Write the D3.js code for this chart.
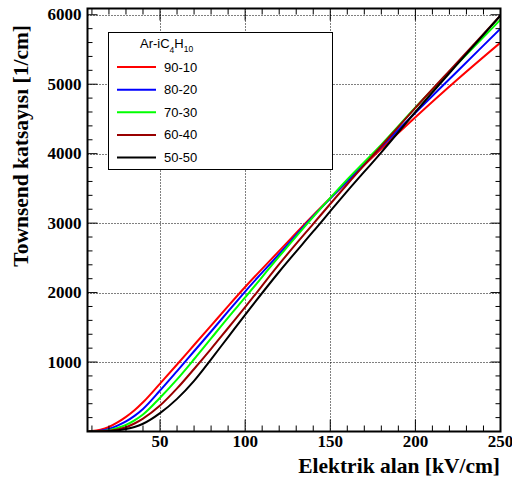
<!DOCTYPE html>
<html>
<head>
<meta charset="utf-8">
<script src="https://cdn.jsdelivr.net/npm/d3@7"></script>
<style>
  html, body { margin: 0; padding: 0; background: #fff; }
  svg { display: block; }
</style>
</head>
<body>
<svg id="chart" width="512" height="481"></svg>
<script>
// Electric field samples (kV/cm)
const field = [8, 10, 15, 20, 25, 30, 35, 40, 50, 60, 70, 80, 90, 100, 120, 140, 160, 180, 200, 225, 250];

// Townsend coefficient (1/cm) for each Ar-iC4H10 mixture
const alpha90_10 = [3, 6, 25, 65, 130, 210, 305, 420, 690, 965, 1245, 1525, 1805, 2080, 2600, 3115, 3600, 4070, 4525, 5075, 5600];
const alpha80_20 = [1, 2, 12, 38, 85, 145, 225, 325, 590, 870, 1155, 1440, 1728, 2015, 2555, 3100, 3605, 4100, 4590, 5195, 5800];
const alpha70_30 = [0, 1, 5, 18, 50, 95, 160, 245, 486, 750, 1040, 1340, 1640, 1930, 2520, 3090, 3630, 4130, 4665, 5300, 5930];
const alpha60_40 = [0, 0, 3, 10, 30, 62, 115, 185, 373, 620, 900, 1190, 1490, 1790, 2410, 2990, 3560, 4110, 4660, 5325, 5990];
const alpha50_50 = [0, 0, 1, 5, 15, 35, 65, 112, 265, 470, 730, 1040, 1360, 1680, 2300, 2880, 3460, 4020, 4600, 5300, 5990];

const mixtures = ["90-10", "80-20", "70-30", "60-40", "50-50"];
const seriesValues = [alpha90_10, alpha80_20, alpha70_30, alpha60_40, alpha50_50];
const colors = ["#ff0000", "#0000ff", "#00ff00", "#990000", "#000000"];

const xTicks = [50, 100, 150, 200, 250];
const yTicks = [1000, 2000, 3000, 4000, 5000, 6000];

const svg = d3.select("#chart");
const frame = { left: 87.5, right: 500.5, top: 8.5, bottom: 431.5 };

const x = d3.scaleLinear().domain([7.4, 250]).range([frame.left, frame.right]);
const y = d3.scaleLinear().domain([0, 6090]).range([frame.bottom, frame.top]);

// dotted grid at the major ticks
const grid = svg.append("g").attr("stroke", "#000").attr("stroke-width", 1)
  .attr("stroke-dasharray", "1,2").attr("fill", "none");
xTicks.filter(d => d < 250).forEach(d => {
  grid.append("line").attr("x1", Math.round(x(d)) + 0.5).attr("x2", Math.round(x(d)) + 0.5)
    .attr("y1", frame.top).attr("y2", frame.bottom);
});
yTicks.forEach(d => {
  grid.append("line").attr("y1", Math.round(y(d)) + 0.5).attr("y2", Math.round(y(d)) + 0.5)
    .attr("x1", frame.left).attr("x2", frame.right);
});

// curves, clipped to the frame
svg.append("clipPath").attr("id", "plotclip").append("rect")
  .attr("x", frame.left).attr("y", frame.top)
  .attr("width", frame.right - frame.left).attr("height", frame.bottom - frame.top);

const line = d3.line()
  .x(d => x(d[0]))
  .y(d => y(d[1]))
  .curve(d3.curveMonotoneX);

const curves = svg.append("g").attr("clip-path", "url(#plotclip)");
seriesValues.forEach((vals, i) => {
  curves.append("path")
    .datum(field.map((f, k) => [f, vals[k]]))
    .attr("d", line)
    .attr("fill", "none")
    .attr("stroke", colors[i])
    .attr("stroke-width", 2);
});

// ticks on all four sides of the frame
const minorX = d3.range(10, 251, 10);
const minorY = d3.range(200, 6001, 200);

function ticksX(g, yPos, dir) {
  minorX.forEach(d => {
    const len = d % 50 === 0 ? 12 : 6;
    g.append("line").attr("x1", x(d)).attr("x2", x(d))
      .attr("y1", yPos).attr("y2", yPos - dir * len);
  });
}
function ticksY(g, xPos, dir) {
  minorY.forEach(d => {
    const len = d % 1000 === 0 ? 10 : 5;
    g.append("line").attr("y1", y(d)).attr("y2", y(d))
      .attr("x1", xPos).attr("x2", xPos + dir * len);
  });
}
const tickG = svg.append("g").attr("stroke", "#000").attr("stroke-width", 1);
ticksX(tickG, frame.bottom, 1);
ticksX(tickG, frame.top, -1);
ticksY(tickG, frame.left, 1);
ticksY(tickG, frame.right, -1);

svg.append("rect")
  .attr("x", frame.left).attr("y", frame.top)
  .attr("width", frame.right - frame.left).attr("height", frame.bottom - frame.top)
  .attr("fill", "none").attr("stroke", "#000").attr("stroke-width", 2);

// tick labels
const labelFont = "'Liberation Serif', 'Times New Roman', serif";
svg.append("g").selectAll("text").data(xTicks).join("text")
  .attr("x", d => x(d)).attr("y", 447)
  .attr("text-anchor", "middle")
  .attr("font-family", labelFont).attr("font-weight", "bold").attr("font-size", 17)
  .text(d => d);

svg.append("g").selectAll("text").data(yTicks).join("text")
  .attr("x", 81.5).attr("y", d => y(d) + 5.5)
  .attr("text-anchor", "end")
  .attr("font-family", labelFont).attr("font-weight", "bold").attr("font-size", 17)
  .text(d => d);

// axis titles
svg.append("text")
  .attr("x", 500).attr("y", 473)
  .attr("text-anchor", "end")
  .attr("font-family", labelFont).attr("font-weight", "bold").attr("font-size", 21.5)
  .text("Elektrik alan [kV/cm]");

svg.append("text")
  .attr("transform", "translate(28,25) rotate(-90)")
  .attr("text-anchor", "end")
  .attr("font-family", labelFont).attr("font-weight", "bold").attr("font-size", 21.5)
  .text("Townsend katsayısı [1/cm]");

// legend
const legFont = "'Liberation Sans', Arial, sans-serif";
const legend = svg.append("g");
legend.append("rect")
  .attr("x", 108.5).attr("y", 32.5).attr("width", 224).attr("height", 137)
  .attr("fill", "#fff").attr("stroke", "#000").attr("stroke-width", 1);

const title = legend.append("text")
  .attr("x", 140).attr("y", 48)
  .attr("font-family", legFont).attr("font-size", 13).attr("fill", "#000");
title.append("tspan").text("Ar-iC");
title.append("tspan").attr("font-size", 8.5).attr("dy", 5).text("4");
title.append("tspan").attr("dy", -5).text("H");
title.append("tspan").attr("font-size", 8.5).attr("dy", 4).text("10");

const legY = d3.scalePoint().domain(mixtures).range([67, 157.5]);
mixtures.forEach((m, i) => {
  legend.append("line")
    .attr("x1", 117).attr("x2", 156)
    .attr("y1", legY(m)).attr("y2", legY(m))
    .attr("stroke", colors[i]).attr("stroke-width", 2);
  legend.append("text")
    .attr("x", 164).attr("y", legY(m) + 4.5)
    .attr("font-family", legFont).attr("font-size", 13).attr("fill", "#000")
    .text(m);
});
</script>
</body>
</html>
